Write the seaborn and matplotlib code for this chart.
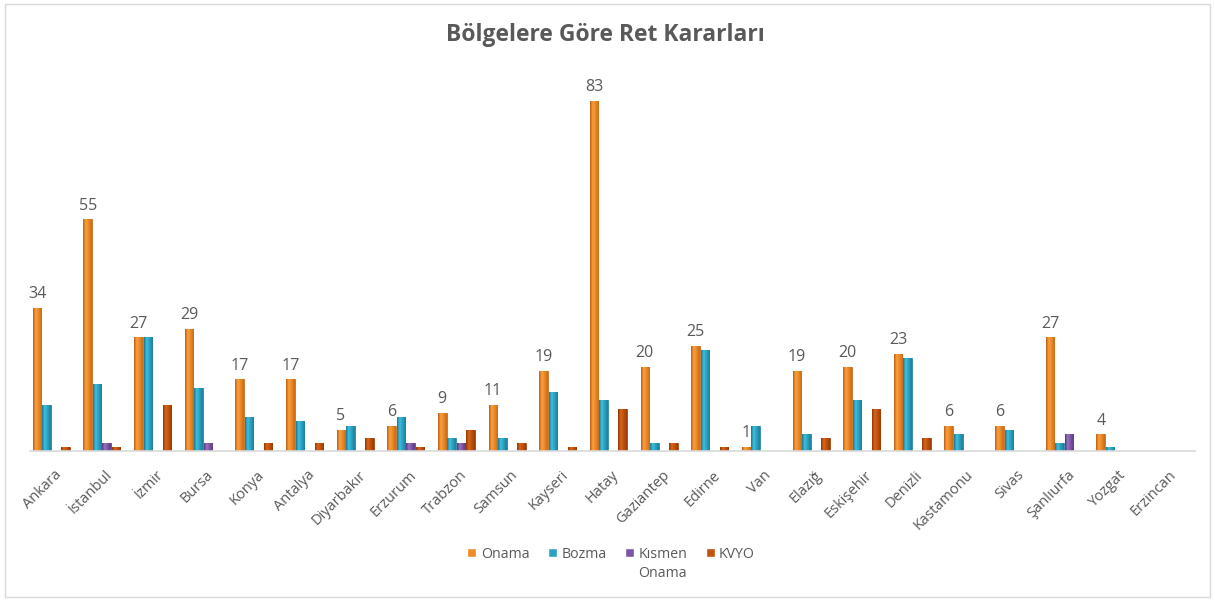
import matplotlib
matplotlib.use("Agg")
import matplotlib.pyplot as plt
import matplotlib.transforms as mtrans
from matplotlib.colors import LinearSegmentedColormap
import seaborn as sns
import pandas as pd
import numpy as np
from matplotlib.patches import Rectangle

regions = ["Ankara", "İstanbul", "İzmir", "Bursa", "Konya", "Antalya", "Diyarbakır",
           "Erzurum", "Trabzon", "Samsun", "Kayseri", "Hatay", "Gaziantep", "Edirne",
           "Van", "Elazığ", "Eskişehir", "Denizli", "Kastamonu", "Sivas", "Şanlıurfa",
           "Yozgat", "Erzincan"]
onama  = [34, 55, 27, 29, 17, 17, 5, 6, 9, 11, 19, 83, 20, 25, 1, 19, 20, 23, 6, 6, 27, 4, 0]
bozma  = [11, 16, 27, 15, 8, 7, 6, 8, 3, 3, 14, 12, 2, 24, 6, 4, 12, 22, 4, 5, 2, 1, 0]
kismen = [0, 2, 0, 2, 0, 0, 0, 2, 2, 0, 0, 0, 0, 0, 0, 0, 0, 0, 0, 0, 4, 0, 0]
kvyo   = [1, 1, 11, 0, 2, 2, 3, 1, 5, 2, 1, 10, 2, 1, 0, 3, 10, 3, 0, 0, 0, 0, 0]
series_names = ["Onama", "Bozma", "Kısmen", "KVYO"]
colors = ["#F28A26", "#2AA3C2", "#7D55A5", "#C4520C"]
grad = [["#B95E16", "#F9A040", "#F08A26", "#C66B1C"],
        ["#1A7690", "#3EC0E0", "#2AA3C2", "#1F7F99"],
        ["#55367A", "#9A74C4", "#7D55A5", "#5C3D82"],
        ["#8C3906", "#D8651A", "#C4520C", "#963D08"]]

rows = []
for name, vals in zip(series_names, [onama, bozma, kismen, kvyo]):
    for r, v in zip(regions, vals):
        rows.append({"Bölge": r, "Değer": v, "Seri": name})
df = pd.DataFrame(rows)

sns.set_theme(style="white")
plt.rcParams["font.family"] = ["Open Sans", "DejaVu Sans"]

fig = plt.figure(figsize=(12.15, 6.01), dpi=100)
ax = fig.add_axes([30/1215, 150/601, 1165/1215, 379.5/601])

sns.barplot(data=df, x="Bölge", y="Değer", hue="Seri", order=regions,
            hue_order=series_names, palette=colors, width=0.75, gap=0.1,
            ax=ax, saturation=1, legend=True)

xlim = (-0.42, len(regions) - 1 + 0.58)
ylim = (0, 90)

gx = np.linspace(0, 1, 64)[None, :]
for cont, g in zip(ax.containers, grad):
    cmap = LinearSegmentedColormap.from_list("g", list(zip([0, 0.3, 0.6, 1.0], g)))
    for p in cont.patches:
        p.set_edgecolor(g[0])
        p.set_linewidth(0.5)
        h = p.get_height()
        if h <= 0:
            continue
        x0, w = p.get_x(), p.get_width()
        im = ax.imshow(gx, cmap=cmap, aspect="auto", extent=(x0, x0 + w, 0, h),
                       zorder=p.get_zorder() + 0.1, interpolation="bilinear")
        im.set_clip_path(p)

labels_txt = [str(v) if v > 0 else "" for v in onama]
ax.bar_label(ax.containers[0], labels=labels_txt, padding=4, fontsize=11.5,
             color="#595959")

ax.set_ylim(*ylim)
ax.set_xlim(*xlim)
ax.set_xlabel("")
ax.set_ylabel("")
ax.set_yticks([])
for s in ["left", "right", "top"]:
    ax.spines[s].set_visible(False)
ax.spines["bottom"].set_color("#D9D9D9")
ax.spines["bottom"].set_linewidth(1.2)
ax.tick_params(axis="x", length=0, pad=12)
off = mtrans.ScaledTranslation(3/100, 0, fig.dpi_scale_trans)
for t in ax.get_xticklabels():
    t.set_rotation(45)
    t.set_ha("right")
    t.set_rotation_mode("anchor")
    t.set_fontsize(10.5)
    t.set_color("#595959")
    t.set_transform(t.get_transform() + off)

handles, labels = ax.get_legend_handles_labels()
ax.get_legend().remove()
leg = fig.legend(handles, labels, loc="center", bbox_to_anchor=(0.503, 0.078),
                 ncol=4, frameon=False, fontsize=10.2, handlelength=0.65,
                 handleheight=0.65, handletextpad=0.3, columnspacing=1.3,
                 labelcolor="#595959")

fig.text(0.498, 0.942, "Bölgelere Göre Ret Kararları", ha="center", va="center",
         fontsize=16.5, fontweight="bold", color="#595959")

fig.canvas.draw()
bb = leg.get_texts()[2].get_window_extent().transformed(fig.transFigure.inverted())
fig.text(bb.x0, bb.y0 - 0.008, "Onama", ha="left", va="top", fontsize=10.2,
         color="#595959")

fig.patches.append(Rectangle((0.004, 0.006), 0.992, 0.988, transform=fig.transFigure,
                             fill=False, edgecolor="#D9D9D9", linewidth=1))

fig.savefig("out.png", dpi=100)
